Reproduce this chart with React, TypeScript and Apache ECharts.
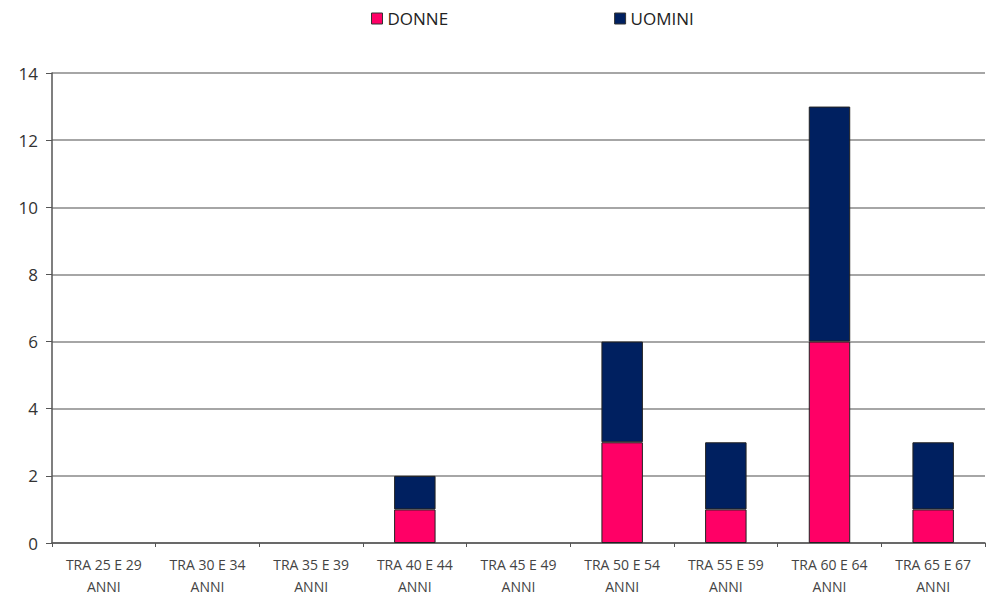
import React, { useEffect, useRef } from "react";
import * as echarts from "echarts";

const categories = [
  "TRA 25 E 29\nANNI",
  "TRA 30 E 34\nANNI",
  "TRA 35 E 39\nANNI",
  "TRA 40 E 44\nANNI",
  "TRA 45 E 49\nANNI",
  "TRA 50 E 54\nANNI",
  "TRA 55 E 59\nANNI",
  "TRA 60 E 64\nANNI",
  "TRA 65 E 67\nANNI",
];
const donne = [0, 0, 0, 1, 0, 3, 1, 6, 1];
const uomini = [0, 0, 0, 1, 0, 3, 2, 7, 2];

export default function App() {
  const ref = useRef<HTMLDivElement>(null);
  useEffect(() => {
    if (!ref.current) return;
    const chart = echarts.init(ref.current, null, { renderer: "svg" });
    const font = "'Open Sans', 'Liberation Sans', sans-serif";
    const noZero = (arr: number[]) => arr.map((v) => (v === 0 ? null : v));
    chart.setOption({
      animation: false,
      backgroundColor: "#ffffff",
      legend: {
        top: 5,
        left: 366,
        itemWidth: 11,
        itemHeight: 11,
        itemGap: 166,
        icon: "rect",
        textStyle: { fontFamily: font, fontSize: 17, color: "#222" },
        data: [
          { name: "DONNE", itemStyle: { borderColor: "#333", borderWidth: 1 } },
          { name: "UOMINI", itemStyle: { borderColor: "#333", borderWidth: 1 } },
        ],
      },
      grid: { left: 52, right: 2, top: 73, bottom: 56, containLabel: false },
      xAxis: {
        type: "category",
        data: categories,
        axisLine: { lineStyle: { color: "#555", width: 1.5 } },
        axisTick: { show: true, length: 4, lineStyle: { color: "#555" } },
        axisLabel: {
          interval: 0,
          fontFamily: font,
          fontSize: 14,
          color: "#444",
          lineHeight: 22,
          margin: 10,
        },
      },
      yAxis: {
        type: "value",
        min: 0,
        max: 14,
        interval: 2,
        axisLine: { show: true, lineStyle: { color: "#555", width: 1.5 } },
        axisTick: { show: true, inside: false, length: 6, lineStyle: { color: "#555" } },
        splitLine: { lineStyle: { color: "#888", width: 1.5 } },
        axisLabel: { fontFamily: font, fontSize: 17, color: "#333", margin: 14 },
      },
      series: [
        {
          name: "DONNE",
          type: "bar",
          stack: "tot",
          barWidth: "40%",
          data: noZero(donne),
          itemStyle: { color: "#FF0066", borderColor: "#222", borderWidth: 1 },
        },
        {
          name: "UOMINI",
          type: "bar",
          stack: "tot",
          barWidth: "40%",
          data: noZero(uomini),
          itemStyle: { color: "#002060", borderColor: "#222", borderWidth: 1 },
        },
      ],
    });
    return () => chart.dispose();
  }, []);
  return (
    <div
      ref={ref}
      style={{ position: "fixed", left: 0, top: 0, width: 987, height: 599 }}
    />
  );
}
